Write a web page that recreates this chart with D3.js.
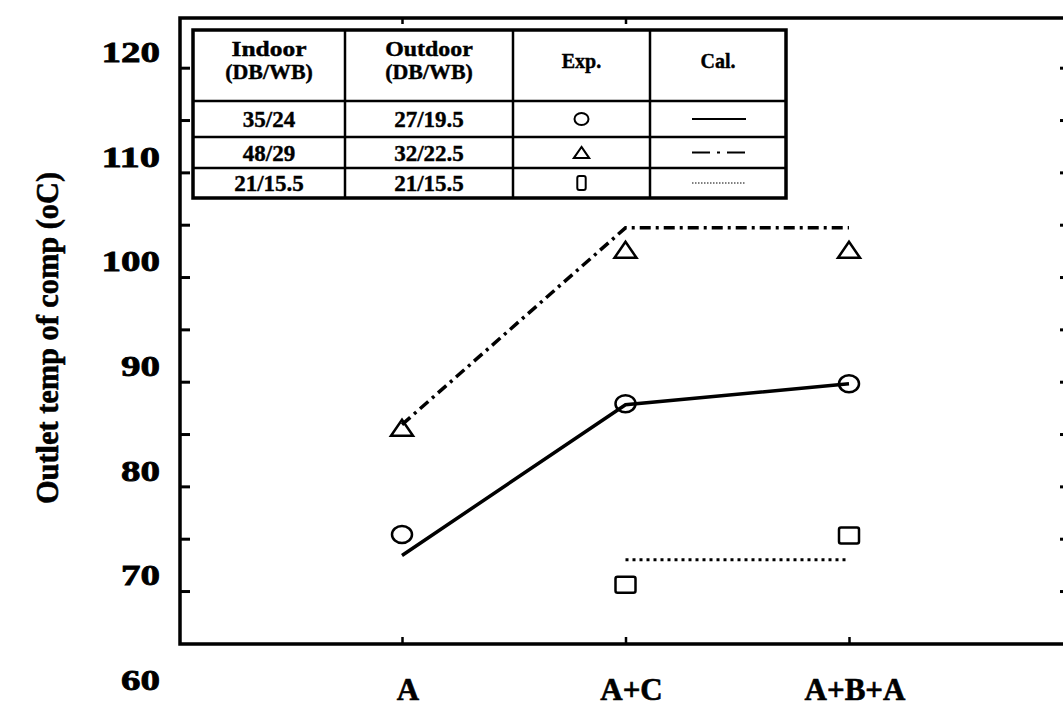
<!DOCTYPE html>
<html>
<head>
<meta charset="utf-8">
<script src="https://cdn.jsdelivr.net/npm/d3@7"></script>
<style>
  html, body { margin: 0; padding: 0; background: #fff; }
  svg { display: block; font-family: "Liberation Serif", "DejaVu Serif", serif; font-weight: bold; }
</style>
</head>
<body>
<script>
// categories on the x axis
const categories = ["A", "A+C", "A+B+A"];

// measured points (Exp.)
const expCircle = [73.9, 86.4, 88.3];
const expTriangle = [84.1, 101.1, 101.1];
const expSquare = [null, 69.1, 73.8];

// calculated lines (Cal.)
const calSolid = [71.9, 86.3, 88.3];
const calDashDot = [84.4, 103.2, 103.2];
const calDotted = [null, 71.5, 71.5];

// axis labels / ticks
const yLabels = [60, 70, 80, 90, 100, 110, 120];
const yMinorTicks = [68.5, 73.5, 78.5, 83.5, 88.5, 93.5, 98.5, 103.5, 108.5, 113.5, 118.5];

// legend table
const tableHeader = [["Indoor", "(DB/WB)"], ["Outdoor", "(DB/WB)"], ["Exp."], ["Cal."]];
const tableRows = [
  ["35/24", "27/19.5", "circle", "solid"],
  ["48/29", "32/22.5", "triangle", "dashdot"],
  ["21/15.5", "21/15.5", "square", "dotted"]
];

const width = 1063, height = 727;
const frame = { left: 180, right: 1070, top: 18, bottom: 644 };

const svg = d3.select("body").append("svg")
  .attr("width", width)
  .attr("height", height);

const x = d3.scalePoint().domain(categories).range([402, 849]);
const y = d3.scaleLinear().domain([60, 120]).range([680, 52]);

// frame
svg.append("path")
  .attr("d", `M${frame.right},${frame.top}H${frame.left}V${frame.bottom}H${frame.right}`)
  .attr("fill", "none")
  .attr("stroke", "#000")
  .attr("stroke-width", 3.5);

// inner ticks, left and right
const leftTicks = svg.append("g")
  .attr("transform", `translate(${frame.left},0)`)
  .call(d3.axisRight(y).tickValues(yMinorTicks).tickSize(10).tickFormat(""));
const rightTicks = svg.append("g")
  .attr("transform", `translate(${frame.right},0)`)
  .call(d3.axisLeft(y).tickValues(yMinorTicks).tickSize(10).tickFormat(""));
[leftTicks, rightTicks].forEach(g => {
  g.select(".domain").remove();
  g.selectAll("line").attr("stroke-width", 3);
});

// x ticks (bottom) and top ticks
const bottomTicks = svg.append("g")
  .attr("transform", `translate(0,${frame.bottom})`)
  .call(d3.axisTop(x).tickSize(7).tickFormat(""));
const topTicks = svg.append("g")
  .attr("transform", `translate(0,${frame.top})`)
  .call(d3.axisBottom(x).tickValues(["A", "A+C"]).tickSize(6).tickFormat(""));
[bottomTicks, topTicks].forEach(g => {
  g.select(".domain").remove();
  g.selectAll("line").attr("stroke-width", 2.5);
});

// y labels
const yAxis = svg.append("g")
  .attr("transform", "translate(160,0)")
  .call(d3.axisLeft(y).tickValues(yLabels).tickSize(0).tickPadding(0));
yAxis.select(".domain").remove();
yAxis.selectAll("text")
  .attr("font-family", "Liberation Serif, serif")
  .attr("font-weight", "bold")
  .attr("font-size", 30)
  .attr("fill", "#000")
  .attr("stroke", "#000")
  .attr("stroke-width", 0.8)
  .attr("textLength", d => String(d).length * 19.5)
  .attr("lengthAdjust", "spacingAndGlyphs");

// x labels
svg.append("g")
  .selectAll("text")
  .data(categories)
  .enter()
  .append("text")
  .attr("x", d => x(d) + 6)
  .attr("y", 700)
  .attr("text-anchor", "middle")
  .attr("font-size", 31)
  .attr("stroke", "#000")
  .attr("stroke-width", 0.6)
  .text(d => d);

// y title
svg.append("text")
  .attr("transform", "translate(58,338) rotate(-90)")
  .attr("text-anchor", "middle")
  .attr("font-size", 32)
  .attr("textLength", 332)
  .attr("lengthAdjust", "spacingAndGlyphs")
  .attr("stroke", "#000")
  .attr("stroke-width", 0.6)
  .text("Outlet temp of comp (oC)");

// lines
const line = d3.line()
  .defined(d => d.v != null)
  .x(d => x(d.c))
  .y(d => y(d.v));
const toPts = arr => categories.map((c, i) => ({ c, v: arr[i] }));

const lineStyles = {
  solid: { width: 3.5, dash: null },
  dashdot: { width: 3.5, dash: "11,5,3,5" },
  dotted: { width: 3, dash: "3,4" }
};

[[calSolid, "solid"], [calDashDot, "dashdot"], [calDotted, "dotted"]].forEach(([arr, s]) => {
  svg.append("path")
    .datum(toPts(arr))
    .attr("d", line)
    .attr("fill", "none")
    .attr("stroke", "#000")
    .attr("stroke-width", lineStyles[s].width)
    .attr("stroke-dasharray", lineStyles[s].dash);
});

// markers
function drawMarker(g, type, cx, cy, size, tall) {
  if (type === "circle") {
    g.append("ellipse").attr("cx", cx).attr("cy", cy)
      .attr("rx", size).attr("ry", size * 0.85);
  } else if (type === "triangle") {
    const w = size * 1.1, h = size * 1.6;
    g.append("path")
      .attr("d", `M${cx},${cy - h / 2}L${cx + w},${cy + h / 2}L${cx - w},${cy + h / 2}Z`);
  } else {
    const w = tall ? size * 1.2 : size * 2, h = tall ? size * 2 : size * 1.6;
    g.append("rect").attr("x", cx - w / 2).attr("y", cy - h / 2)
      .attr("width", w).attr("height", h).attr("rx", 2);
  }
}

const markers = svg.append("g")
  .attr("fill", "none")
  .attr("stroke", "#000")
  .attr("stroke-width", 2.5);

[[expCircle, "circle"], [expTriangle, "triangle"], [expSquare, "square"]].forEach(([arr, t]) => {
  arr.forEach((v, i) => {
    if (v == null) return;
    drawMarker(markers, t, x(categories[i]), y(v), 10);
  });
});

// legend table
const colX = [193, 345, 513, 650, 786];
const rowY = [30, 101, 137, 168, 198];
const table = svg.append("g");

table.append("rect")
  .attr("x", colX[0]).attr("y", rowY[0])
  .attr("width", colX[4] - colX[0]).attr("height", rowY[4] - rowY[0])
  .attr("fill", "#fff")
  .attr("stroke", "#000")
  .attr("stroke-width", 3.5);

colX.slice(1, 4).forEach(cx => {
  table.append("line")
    .attr("x1", cx).attr("x2", cx)
    .attr("y1", rowY[0]).attr("y2", rowY[4])
    .attr("stroke", "#000").attr("stroke-width", 2.5);
});
rowY.slice(1, 4).forEach(ry => {
  table.append("line")
    .attr("x1", colX[0]).attr("x2", colX[4])
    .attr("y1", ry).attr("y2", ry)
    .attr("stroke", "#000").attr("stroke-width", 2.5);
});

tableHeader.forEach((lines, i) => {
  const cx = (colX[i] + colX[i + 1]) / 2;
  const cy = (rowY[0] + rowY[1]) / 2 - 5;
  lines.forEach((t, j) => {
    table.append("text")
      .attr("x", cx)
      .attr("y", cy + (j - (lines.length - 1) / 2) * 23)
      .attr("dy", "0.35em")
      .attr("text-anchor", "middle")
      .attr("font-size", 20)
      .attr("stroke", "#000")
      .attr("stroke-width", 0.4)
      .attr("textLength", t.length > 5 ? t.length * 12.5 : null)
      .attr("lengthAdjust", "spacingAndGlyphs")
      .text(t);
  });
});

tableRows.forEach((row, r) => {
  const cy = (rowY[r + 1] + rowY[r + 2]) / 2;
  [0, 1].forEach(i => {
    table.append("text")
      .attr("x", (colX[i] + colX[i + 1]) / 2)
      .attr("y", cy)
      .attr("dy", "0.35em")
      .attr("text-anchor", "middle")
      .attr("font-size", 23)
      .attr("stroke", "#000")
      .attr("stroke-width", 0.4)
      .text(row[i]);
  });
  const mg = table.append("g").attr("fill", "none").attr("stroke", "#000").attr("stroke-width", 2);
  drawMarker(mg, row[2], (colX[2] + colX[3]) / 2, cy, 7, true);
  const st = row[3];
  table.append("line")
    .attr("x1", 692).attr("x2", 746)
    .attr("y1", cy).attr("y2", cy)
    .attr("stroke", "#000")
    .attr("stroke-width", st === "dotted" ? 1 : 2)
    .attr("stroke-dasharray", st === "dashdot" ? "18,7,3,7" : st === "dotted" ? "1.5,1.5" : null);
});
</script>
</body>
</html>
